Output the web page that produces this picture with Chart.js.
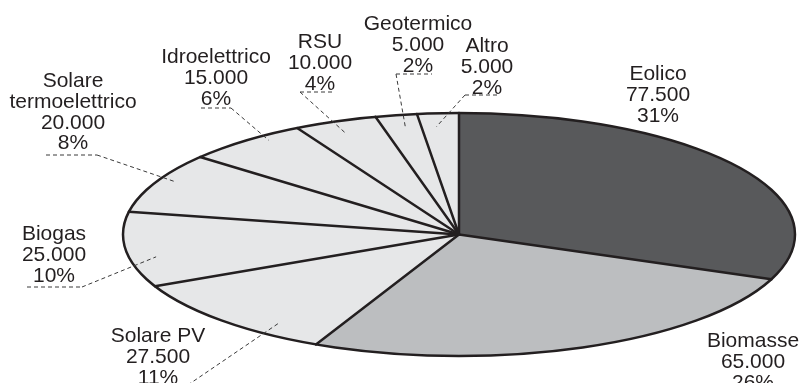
<!DOCTYPE html>
<html>
<head>
<meta charset="utf-8">
<script src="https://cdn.jsdelivr.net/npm/chart.js@4/dist/chart.umd.min.js"></script>
<style>
  html, body { margin: 0; padding: 0; background: #ffffff; }
  #wrap { width: 804px; height: 383px; position: relative; overflow: hidden; }
</style>
</head>
<body>
<div id="wrap"><canvas id="pie" width="804" height="383"></canvas></div>
<script>
// Potenza installata per fonte (MW)
const categories = ['Eolico', 'Biomasse', 'Solare PV', 'Biogas', 'Solare termoelettrico',
                    'Idroelettrico', 'RSU', 'Geotermico', 'Altro'];
const values = [77500, 65000, 27500, 25000, 20000, 15000, 10000, 5000, 5000];
const sliceColors = ['#58595b', '#bcbec0', '#e6e7e8', '#e6e7e8', '#e6e7e8',
                     '#e6e7e8', '#e6e7e8', '#e6e7e8', '#e6e7e8'];

// Label placement: centre x, first baseline y, dashed underline span, which
// end of it the leader leaves from, and where inside the slice it points
// (t = fraction of the slice's sweep, r = fraction of the radius).
const labelLayout = [
  { x: 658, y: 80,  lead: null },
  { x: 753, y: 347, lead: null },
  { x: 158, y: 342, lead: { x1: 140, x2: 182, y: 389, from: 'right', t: 0.28, r: 0.91 } },
  { x: 54,  y: 240, lead: { x1: 27,  x2: 82,  y: 287, from: 'right', t: 0.38, r: 0.92 } },
  { x: 73,  y: 87,  lead: { x1: 46,  x2: 97,  y: 155, from: 'right', t: 0.57, r: 0.95 } },
  { x: 216, y: 63,  lead: { x1: 201, x2: 231, y: 108, from: 'right', t: 0.66, r: 0.96 } },
  { x: 320, y: 48,  lead: { x1: 300, x2: 334, y: 92,  from: 'left',  t: 0.47, r: 0.90 } },
  { x: 418, y: 30,  lead: { x1: 396, x2: 432, y: 74,  from: 'left',  t: 0.58, r: 0.90 } },
  { x: 487, y: 52,  lead: { x1: 465, x2: 500, y: 95,  from: 'left',  t: 0.40, r: 0.89 } }
];

const ELLIPSE_RX = 336;
const ELLIPSE_RY = 121.5;
const INK = '#231f20';
const FONT = '21px "Liberation Sans", Arial, Helvetica, sans-serif';
const LINE_H = 20.8;

const total = values.reduce((a, b) => a + b, 0);

function fmtThousands(n) {
  return String(n).replace(/\B(?=(\d{3})+(?!\d))/g, '.');
}
function nameLines(name) {
  return name.length > 14 ? name.split(' ') : [name];
}

// Squash the circular pie into a flat ellipse, then draw the outlines,
// leader lines and labels in untransformed space.
const ellipsePie = {
  id: 'ellipsePie',
  beforeDatasetsDraw(chart) {
    const arc = chart.getDatasetMeta(0).data[0];
    const { x, y, outerRadius } = arc.getProps(['x', 'y', 'outerRadius'], true);
    const ctx = chart.ctx;
    ctx.save();
    ctx.translate(x, y);
    ctx.scale(ELLIPSE_RX / outerRadius, ELLIPSE_RY / outerRadius);
    ctx.translate(-x, -y);
  },
  afterDatasetsDraw(chart) {
    const ctx = chart.ctx;
    ctx.restore();
    const arcs = chart.getDatasetMeta(0).data;
    const { x, y } = arcs[0].getProps(['x', 'y'], true);

    ctx.save();
    ctx.strokeStyle = INK;
    ctx.lineWidth = 2.5;
    ctx.lineJoin = 'round';
    ctx.lineCap = 'round';
    arcs.forEach(a => {
      const { startAngle } = a.getProps(['startAngle'], true);
      ctx.beginPath();
      ctx.moveTo(x, y);
      ctx.lineTo(x + Math.cos(startAngle) * ELLIPSE_RX, y + Math.sin(startAngle) * ELLIPSE_RY);
      ctx.stroke();
    });
    ctx.beginPath();
    ctx.ellipse(x, y, ELLIPSE_RX, ELLIPSE_RY, 0, 0, Math.PI * 2);
    ctx.stroke();
    ctx.restore();
  },
  afterDraw(chart) {
    const ctx = chart.ctx;
    const arcs = chart.getDatasetMeta(0).data;
    ctx.save();
    ctx.font = FONT;
    ctx.fillStyle = INK;
    ctx.textAlign = 'center';
    ctx.textBaseline = 'alphabetic';
    arcs.forEach((a, i) => {
      const lay = labelLayout[i];
      const lines = nameLines(categories[i]).concat([
        fmtThousands(values[i]),
        Math.round(values[i] / total * 100) + '%'
      ]);
      lines.forEach((t, k) => ctx.fillText(t, lay.x, lay.y + k * LINE_H));

      if (lay.lead) {
        const { x, y, startAngle, endAngle } = a.getProps(['x', 'y', 'startAngle', 'endAngle'], true);
        const ang = startAngle + (endAngle - startAngle) * lay.lead.t;
        const px = x + Math.cos(ang) * ELLIPSE_RX * lay.lead.r;
        const py = y + Math.sin(ang) * ELLIPSE_RY * lay.lead.r;
        const ex = lay.lead.from === 'left' ? lay.lead.x1 : lay.lead.x2;
        ctx.save();
        ctx.strokeStyle = '#3a3a3a';
        ctx.lineWidth = 1;
        ctx.setLineDash([4, 3]);
        ctx.beginPath();
        ctx.moveTo(lay.lead.x1, lay.lead.y);
        ctx.lineTo(lay.lead.x2, lay.lead.y);
        ctx.moveTo(ex, lay.lead.y);
        ctx.lineTo(px, py);
        ctx.stroke();
        ctx.restore();
      }
    });
    ctx.restore();
  }
};

new Chart(document.getElementById('pie'), {
  type: 'pie',
  data: {
    labels: categories,
    datasets: [{
      data: values,
      backgroundColor: sliceColors,
      borderWidth: 0
    }]
  },
  options: {
    responsive: false,
    animation: false,
    layout: { padding: { left: 114, right: 0, top: 86, bottom: 0 } },
    plugins: {
      legend: { display: false },
      tooltip: { enabled: false }
    },
    events: []
  },
  plugins: [ellipsePie]
});
</script>
</body>
</html>
